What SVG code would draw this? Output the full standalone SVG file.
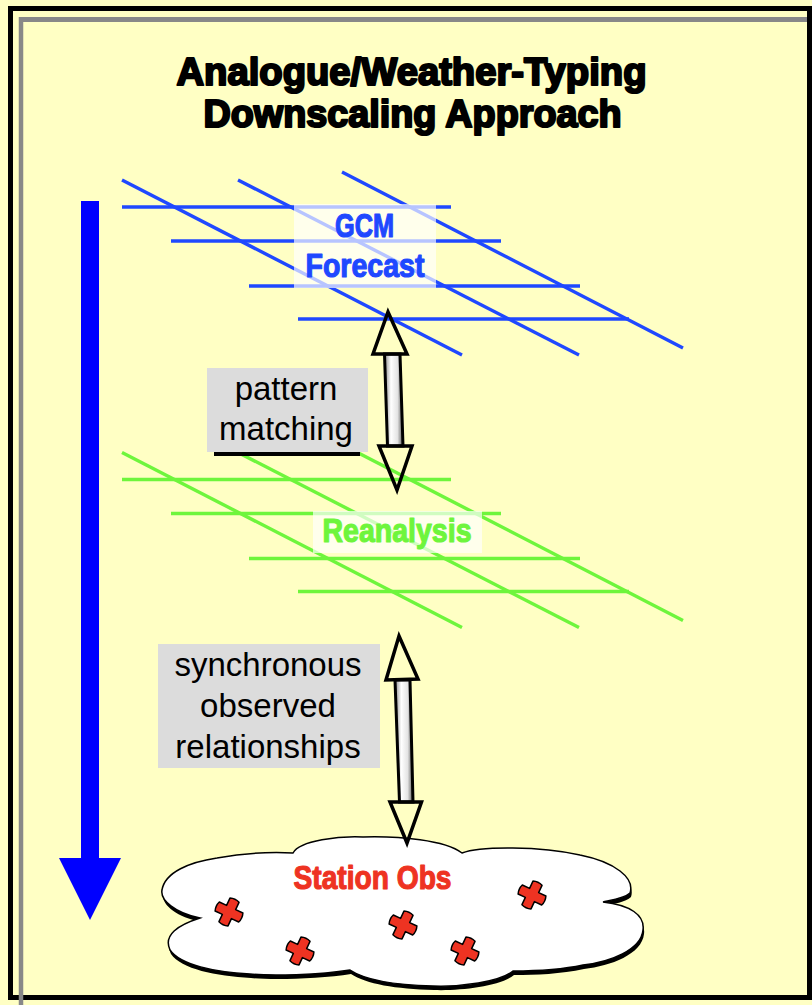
<svg xmlns="http://www.w3.org/2000/svg" xmlns:xlink="http://www.w3.org/1999/xlink" width="812" height="1005" viewBox="0 0 812 1005">
  <style>
    .heavy { font-family: "Liberation Sans", Arial, sans-serif; font-weight: bold; text-anchor: middle; }
    .plain { font-family: "Liberation Sans", Arial, sans-serif; font-size: 33px; fill: #000; text-anchor: middle; }
    .grid line { stroke-width: 3.4; stroke-linecap: butt; }
    .veil { fill: #fff; opacity: 0.68; }
    .tag { fill: #dcdcdc; }
    .head { fill: none; stroke: #000; stroke-width: 3.5; stroke-linejoin: miter; }
    .shaft { fill: url(#shaftShade); stroke: #000; stroke-width: 3; }
    .cross { fill: #ee3322; stroke: #000; stroke-width: 1.5; stroke-linejoin: round; }
  </style>
  <defs>
    <!-- skewed grid of a model field; colour comes from the referencing <use> -->
    <g id="grid" class="grid">
      <line x1="122" y1="207" x2="451" y2="207"/>
      <line x1="171" y1="241" x2="501" y2="241"/>
      <line x1="249" y1="286" x2="580" y2="286"/>
      <line x1="298" y1="319" x2="629" y2="319"/>
      <line x1="122" y1="180" x2="462" y2="355"/>
      <line x1="238" y1="180" x2="579" y2="355"/>
      <line x1="342" y1="172" x2="683" y2="348"/>
    </g>
    <linearGradient id="shaftShade" x1="0" y1="0" x2="1" y2="0">
      <stop offset="0" stop-color="#8a8a8a"/>
      <stop offset="0.35" stop-color="#ffffff"/>
      <stop offset="0.7" stop-color="#e4e4e4"/>
      <stop offset="1" stop-color="#5a5a5a"/>
    </linearGradient>
    <path id="plus" class="cross" d="M-5,-13 Q0,-15 5,-13 V-5 H13 Q15,0 13,5 H5 V13 Q0,15 -5,13 V5 H-13 Q-15,0 -13,-5 H-5 Z"/>
  </defs>

  <!-- page background and frame -->
  <rect x="0" y="0" width="812" height="1005" fill="#ffffc4"/>
  <line x1="19" y1="19.5" x2="807" y2="19.5" stroke="#888" stroke-width="5"/>
  <rect x="10.5" y="8.5" width="799" height="989" fill="none" stroke="#000" stroke-width="5"/>
  <line x1="21" y1="17" x2="21" y2="1005" stroke="#888" stroke-width="4.5"/>

  <!-- title -->
  <g id="title" class="heavy" font-size="38" fill="#000" stroke="#000" stroke-width="2.2" stroke-linejoin="round">
    <text x="411.5" y="85" textLength="470" lengthAdjust="spacingAndGlyphs">Analogue/Weather-Typing</text>
    <text x="412.5" y="127" textLength="418" lengthAdjust="spacingAndGlyphs">Downscaling Approach</text>
  </g>

  <!-- GCM forecast field -->
  <g id="gcm">
    <use xlink:href="#grid" stroke="#1f48ff"/>
    <rect class="veil" x="294" y="204" width="142" height="84"/>
    <g class="heavy" font-size="34" fill="#1f48ff" stroke="#1f48ff" stroke-width="1.2" stroke-linejoin="round">
      <text x="364.5" y="237" textLength="59" lengthAdjust="spacingAndGlyphs">GCM</text>
      <text x="365" y="277" textLength="119" lengthAdjust="spacingAndGlyphs">Forecast</text>
    </g>
  </g>

  <!-- reanalysis field -->
  <g id="reanalysis">
    <use xlink:href="#grid" stroke="#6ef53c" transform="translate(0,272.5)"/>
    <rect class="veil" x="313" y="511" width="169" height="42"/>
    <text class="heavy" x="397" y="541.5" font-size="33" fill="#6ef53c" stroke="#6ef53c" stroke-width="1.2" stroke-linejoin="round" textLength="149" lengthAdjust="spacingAndGlyphs">Reanalysis</text>
  </g>

  <!-- label: pattern matching -->
  <g id="pattern-label">
    <rect x="214" y="451" width="146" height="5" fill="#000"/>
    <rect class="tag" x="207" y="368" width="161" height="84"/>
    <text class="plain" x="286" y="400">pattern</text>
    <text class="plain" x="286" y="440">matching</text>
  </g>

  <!-- label: synchronous observed relationships -->
  <g id="sync-label">
    <rect class="tag" x="158" y="644" width="222" height="124"/>
    <text class="plain" x="268" y="676">synchronous</text>
    <text class="plain" x="268" y="717">observed</text>
    <text class="plain" x="268" y="758">relationships</text>
  </g>

  <!-- station observations cloud -->
  <g id="station-obs">
    <path transform="translate(1,4)" fill="#000" d="M293,853 C300,840 340,836 363,837 C400,836 445,840 462,853 C480,846 540,846 580,855 C615,862 635,878 630,893 C625,898 612,900 603,902 C630,905 645,915 643,930 C641,950 610,962 583,965 C560,970 535,971 513,971 C500,982 460,987 433,986 C395,985 365,980 350,970 C320,975 270,976 250,974 C215,972 180,965 170,950 C163,935 178,925 200,918 C175,913 160,900 162,890 C165,872 190,862 217,858 C245,853 275,852 293,853 Z"/>
    <path fill="#fff" stroke="#000" stroke-width="1.5" d="M293,853 C300,840 340,836 363,837 C400,836 445,840 462,853 C480,846 540,846 580,855 C615,862 635,878 630,893 C625,898 612,900 603,902 C630,905 645,915 643,930 C641,950 610,962 583,965 C560,970 535,971 513,971 C500,982 460,987 433,986 C395,985 365,980 350,970 C320,975 270,976 250,974 C215,972 180,965 170,950 C163,935 178,925 200,918 C175,913 160,900 162,890 C165,872 190,862 217,858 C245,853 275,852 293,853 Z"/>
    <use xlink:href="#plus" transform="translate(229,912) rotate(25)"/>
    <use xlink:href="#plus" transform="translate(300,951) rotate(25)"/>
    <use xlink:href="#plus" transform="translate(403,925) rotate(25)"/>
    <use xlink:href="#plus" transform="translate(465,951) rotate(25)"/>
    <use xlink:href="#plus" transform="translate(532,895) rotate(25)"/>
    <text class="heavy" x="372.5" y="889" font-size="34" fill="#ee3322" stroke="#ee3322" stroke-width="1.2" stroke-linejoin="round" textLength="158" lengthAdjust="spacingAndGlyphs">Station Obs</text>
  </g>

  <!-- connectors -->
  <g id="connectors">
    <!-- downscaling direction -->
    <path fill="#0000ff" d="M81,201 H99 V858 H121 L90,920 L59,858 H81 Z"/>
    <!-- GCM forecast <-> reanalysis -->
    <polygon class="shaft" points="384.5,354 400,354 403,446 387.5,446"/>
    <polygon class="head" points="388,312 407,354 373,354"/>
    <polygon class="head" points="379,446 412,446 397,490"/>
    <!-- reanalysis <-> station obs -->
    <polygon class="shaft" points="395,680 410,680 413,802 399.5,802"/>
    <polygon class="head" points="399,636 418,679 386,680"/>
    <polygon class="head" points="390,802 421.5,802 407,843"/>
  </g>
</svg>
